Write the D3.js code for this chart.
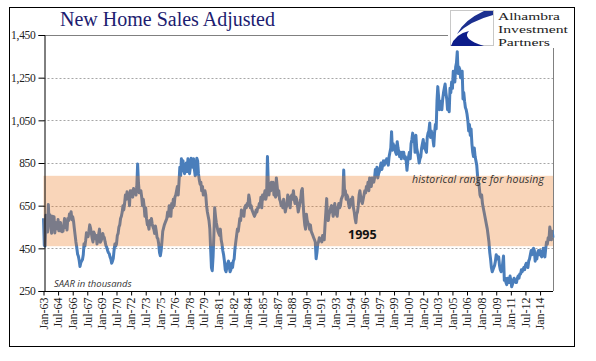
<!DOCTYPE html>
<html lang="en">
<head>
<meta charset="utf-8">
<script src="https://d3js.org/d3.v7.min.js"></script>
<style>
  body { margin: 0; background: #fff; }
</style>
</head>
<body>
<svg id="chart" width="596" height="361"></svg>
<script>
// monthly new home sales, SAAR thousands, starting Jan 1963
const sales = [
  591,464,461,605,586,526,655,569,608,544,521,600, // 1963
  561,598,522,571,554,542,585,532,541,571,530,528, // 1964
  530,560,590,548,573,536,590,580,611,596,622,584, // 1965
  598,577,545,512,480,455,424,413,393,365,383,390, // 1966
  397,420,471,460,486,523,513,505,530,560,545,520, // 1967
  497,480,526,517,495,510,470,491,516,540,478,485, // 1968
  498,520,504,500,480,462,455,440,430,425,410,400, // 1969
  380,390,402,440,470,460,470,510,520,550,560,590, // 1970
  600,620,650,630,660,700,680,715,690,700,650,720, // 1971
  700,720,690,730,710,720,700,740,845,760,710,720, // 1972
  720,690,650,680,650,600,640,590,560,560,540,580, // 1973
  560,590,565,550,540,520,555,530,500,495,470,430, // 1974
  415,440,480,530,545,560,570,580,590,620,600,650, // 1975
  620,600,660,640,680,650,690,700,720,740,700,760, // 1976
  830,790,870,820,860,810,800,830,850,810,870,840, // 1977
  800,830,872,840,830,870,820,790,800,872,860,800, // 1978
  770,750,760,720,740,700,710,720,700,650,620,600, // 1979
  580,540,450,360,345,410,510,640,600,570,550,530, // 1980
  520,510,540,490,470,440,420,390,350,340,360,380, // 1981
  390,360,340,350,380,360,390,400,450,480,510,540, // 1982
  530,560,590,580,630,620,620,600,640,650,640,660, // 1983
  650,700,680,640,650,630,620,610,600,610,630,620, // 1984
  640,640,660,650,690,640,700,680,700,720,680,700, // 1985
  880,760,700,750,720,760,730,760,700,720,690,780, // 1986
  740,700,720,680,670,650,660,640,680,650,620,640, // 1987
  650,700,690,680,640,690,700,680,720,680,660,690, // 1988
  680,650,620,640,660,680,720,730,660,600,560,540, // 1989
  610,580,570,560,540,560,530,520,510,500,490,480, // 1990
  401,430,470,480,500,490,490,480,510,500,490,560, // 1991
  620,683,600,580,610,620,640,650,630,600,640,660, // 1992
  610,620,600,640,660,640,650,680,690,700,817,720, // 1993
  720,680,700,690,660,640,650,680,660,690,640,620, // 1994
  590,570,610,620,650,700,720,690,670,660,680,700, // 1995
  720,710,740,730,760,720,780,760,740,780,770,760, // 1996
  780,820,800,830,780,800,810,830,850,820,840,860, // 1997
  840,860,850,870,860,840,880,900,920,997,910,940, // 1998
  920,930,900,890,950,920,900,880,900,870,900,880, // 1999
  900,870,880,860,816,860,880,900,870,940,960,990, // 2000
  950,960,900,980,920,900,880,850,870,880,920,940, // 2001
  960,920,940,910,900,970,990,1000,1037,970,1000,980, // 2002
  960,930,990,1030,1010,1140,1208,1160,1100,1140,1130,1100, // 2003
  1150,1180,1200,1220,1180,1150,1100,1120,1090,1200,1180,1230, // 2004
  1200,1280,1250,1230,1300,1320,1372,1270,1300,1290,1250,1270, // 2005
  1280,1150,1180,1140,1110,1100,1080,1050,1000,1030,980,1010, // 2006
  940,900,880,920,880,860,840,790,760,740,700,690, // 2007
  700,660,640,620,600,580,560,540,510,480,430,400, // 2008
  360,340,350,360,370,390,420,410,400,410,370,350, // 2009
  340,350,380,414,300,310,290,280,310,290,290,320, // 2010
  300,270,280,300,310,300,290,290,310,320,310,330, // 2011
  330,350,340,350,360,350,370,380,370,360,390,400, // 2012
  420,440,420,440,450,440,390,420,400,430,440,420, // 2013
  440,420,410,420,450,430,410,450,480,470,500,490, // 2014
  550,520,490,530,500                              // 2015
];

const yTicks = [250, 450, 650, 850, 1050, 1250, 1450];
const xTickLabels = ["Jan-63","Jul-64","Jan-66","Jul-67","Jan-69","Jul-70","Jan-72","Jul-73",
  "Jan-75","Jul-76","Jan-78","Jul-79","Jan-81","Jul-82","Jan-84","Jul-85","Jan-87","Jul-88",
  "Jan-90","Jul-91","Jan-93","Jul-94","Jan-96","Jul-97","Jan-99","Jul-00","Jan-02","Jul-03",
  "Jan-05","Jul-06","Jan-08","Jul-09","Jan-11","Jul-12","Jan-14"];
const historicalRange = [460, 790];
const logoLines = ["Alhambra", "Investment", "Partners"];

const svg = d3.select("#chart");
const plotLeft = 43.5, plotRight = 553, plotTop = 35, plotBottom = 291;

const monthDate = i => new Date(1963, i, 1);
const parseTick = s => {
  const d = d3.timeParse("%b-%y")(s);
  if (d.getFullYear() > 2030) d.setFullYear(d.getFullYear() - 100);
  return d;
};

const x = d3.scaleTime()
  .domain([monthDate(0), monthDate(sales.length - 1)])
  .range([plotLeft, plotRight]);
const y = d3.scaleLinear().domain([250, 1450]).range([plotBottom, plotTop]);

// outer frame
svg.append("rect").attr("x", 9.5).attr("y", 7.5).attr("width", 565).attr("height", 339)
  .attr("fill", "#fff").attr("stroke", "#000").attr("stroke-width", 1);

// gridlines
svg.append("g").selectAll("line").data(yTicks.filter(d => d > 250 && d < 1450)).join("line")
  .attr("x1", plotLeft).attr("x2", plotRight)
  .attr("y1", d => Math.round(y(d)) + 0.5).attr("y2", d => Math.round(y(d)) + 0.5)
  .attr("stroke", "#a6a6a6").attr("stroke-dasharray", "2,2");

// plot top / right border
svg.append("path")
  .attr("d", `M${plotLeft},${Math.round(y(1450)) + 0.5}H${plotRight + 0.5}V${plotBottom}`)
  .attr("fill", "none").attr("stroke", "#808080");

// series
svg.append("path").datum(sales)
  .attr("d", d3.line().x((d, i) => x(monthDate(i))).y(d => y(d)))
  .attr("fill", "none").attr("stroke", "#4a7ebb").attr("stroke-width", 3)
  .attr("stroke-linejoin", "round");

// historical band, translucent on top of the line
svg.append("rect")
  .attr("x", plotLeft).attr("width", plotRight - plotLeft)
  .attr("y", y(historicalRange[1])).attr("height", y(historicalRange[0]) - y(historicalRange[1]))
  .attr("fill", "rgb(236,115,22)").attr("fill-opacity", 0.3);

// y axis
const yAxis = svg.append("g").attr("transform", `translate(${Math.round(plotLeft) + 0.5},0)`)
  .call(d3.axisLeft(y).tickValues(yTicks).tickSize(6).tickPadding(3).tickFormat(d3.format(",")));
yAxis.select(".domain").attr("stroke", "#000");
yAxis.selectAll(".tick line").attr("stroke", "#000");
yAxis.selectAll("text").attr("font-family", "Liberation Serif").attr("font-size", 11.5)
  .attr("fill", "#222").attr("letter-spacing", -0.3);

// x axis
const xAxis = svg.append("g").attr("transform", `translate(0,${plotBottom + 0.5})`)
  .call(d3.axisBottom(x).tickValues(xTickLabels.map(parseTick)).tickSize(4)
    .tickFormat(d3.timeFormat("%b-%y")));
xAxis.select(".domain").attr("stroke", "#000").attr("d", `M${plotLeft},0H${plotRight}`);
xAxis.selectAll(".tick line").attr("stroke", "#000");
xAxis.selectAll("text")
  .attr("font-family", "Liberation Serif").attr("font-size", 12).attr("fill", "#222")
  .attr("text-anchor", "end").attr("dy", "0.32em")
  .attr("transform", "translate(0,6) rotate(-90)").attr("x", 0).attr("y", 0);

// annotations
svg.append("text").attr("x", 60).attr("y", 26)
  .attr("font-family", "Liberation Serif").attr("font-size", 20).attr("fill", "#1c1c70")
  .text("New Home Sales Adjusted");
svg.append("text").attr("x", 54).attr("y", 287)
  .attr("font-family", "Open Sans").attr("font-style", "italic").attr("font-size", 9.5)
  .attr("fill", "#333").text("SAAR in thousands");
svg.append("text").attr("x", 348).attr("y", 239)
  .attr("font-family", "Open Sans").attr("font-weight", "bold").attr("font-size", 12.5)
  .attr("fill", "#111").text("1995");
svg.append("text").attr("x", 412).attr("y", 183)
  .attr("font-family", "Open Sans").attr("font-style", "italic").attr("font-size", 10.5)
  .attr("fill", "#333").attr("textLength", 132).text("historical range for housing");

// logo
const logo = svg.append("g");
logo.append("rect").attr("x", 448).attr("y", 8).attr("width", 126).attr("height", 40).attr("fill", "#fff");
logo.append("rect").attr("x", 450.5).attr("y", 10.5).attr("width", 43).attr("height", 35)
  .attr("fill", "#fff").attr("stroke", "#c8c8c8");
logo.append("path").attr("d", "M493,11 L484,11 Q464,20 457,34 Q470,21 493,15 Z").attr("fill", "#1b2f8f");
logo.append("path").attr("d", "M451,46 Q455,34 469,31 Q461,39 484,46 Z").attr("fill", "#0d1d8a");
logo.selectAll("text.logo").data(logoLines).join("text")
  .attr("x", 498).attr("y", (d, i) => 20 + i * 13)
  .attr("font-family", "Liberation Serif").attr("font-size", 11.2).attr("fill", "#222")
  .attr("textLength", (d, i) => [62, 70, 52][i]).attr("lengthAdjust", "spacingAndGlyphs")
  .text(d => d);
</script>
</body>
</html>
